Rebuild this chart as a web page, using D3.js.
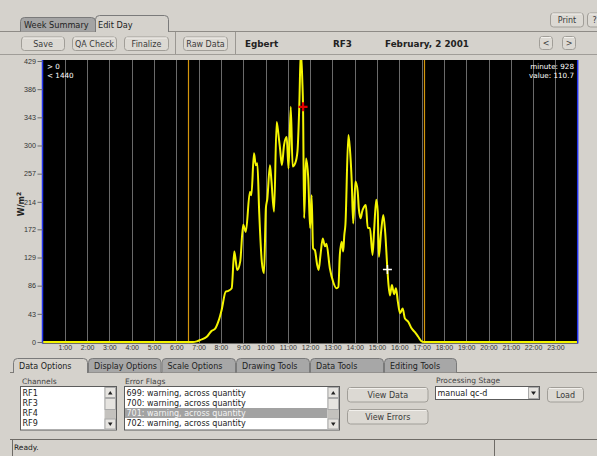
<!DOCTYPE html>
<html><head><meta charset="utf-8">
<script src="https://cdn.jsdelivr.net/npm/d3@7"></script>
<style>
html,body{margin:0;padding:0;background:#d5d2cc;}
svg{display:block;}
text{font-family:"DejaVu Sans",sans-serif;}
</style></head><body>
<script>
// ---- data ----
const minutes = [0,390,405,415,424,442,455,464,473,482,493,500,509,516,524,532,540,547,558,562,569,574,578,583,590,596,601,605,612,616,623,630,635,639,644,650,657,662,668,673,680,686,691,695,699,701,704,709,715,720,724,728,733,739,743,748,754,760,764,773,782,791,796,800,805,809,812,815,823,827,832,836,842,848,851,856,860,865,870,875,881,888,892,898,902,905,911,917,922,928,931,935,940,946,951,956,962,969,975,984,993,1002,1011,1020,1027,1440];
const irradiance = [0,0,0,1,3,8,17,20,31,49,77,78,82,138,110,123,179,168,229,224,288,270,273,199,123,105,204,219,270,246,199,336,316,296,270,301,313,265,359,268,273,291,362,445,400,359,189,280,250,174,224,143,140,118,110,133,158,146,150,113,92,82,84,133,153,138,163,179,316,296,245,181,245,230,204,189,199,206,209,174,174,133,168,217,199,130,168,194,168,110.7,87,71,87,73,82,62,44,51,36,31,21,15,8,1,0,0];
const yTicks = [0,43,86,129,172,214,257,300,343,386,429];
const hourLabels = ["1:00","2:00","3:00","4:00","5:00","6:00","7:00","8:00","9:00","10:00","11:00","12:00","13:00","14:00","15:00","16:00","17:00","18:00","19:00","20:00","21:00","22:00","23:00"];
const hourMinutes = [60,120,180,240,300,360,420,480,540,600,660,720,780,840,900,960,1020,1080,1140,1200,1260,1320,1380];
const sunMarks = [392, 1027];
const flaggedMinute = 701;
const cursorMinute = 928;
const topTabs = ["Week Summary","Edit Day"];
const toolButtons = ["Save","QA Check","Finalize","Raw Data"];
const bottomTabs = ["Data Options","Display Options","Scale Options","Drawing Tools","Data Tools","Editing Tools"];
const channels = ["RF1","RF3","RF4","RF9"];
const errorFlags = ["699: warning, across quantity","700: warning, across quantity","701: warning, across quantity","702: warning, across quantity"];

const W=597,H=456, BG="#d5d2cc";
const svg=d3.select("body").append("svg").attr("width",W).attr("height",H);
svg.append("rect").attr("width",W).attr("height",H).attr("fill",BG);

function button(x,y,w,h,label,fs){
  const g=svg.append("g");
  g.append("rect").attr("x",x+0.5).attr("y",y+0.5).attr("width",w).attr("height",h).attr("rx",3)
   .attr("fill","#dcd9d3").attr("stroke","#a19e98");
  g.append("line").attr("x1",x+2).attr("x2",x+w-1).attr("y1",y+1.5).attr("y2",y+1.5).attr("stroke","#f2f0ec");
  g.append("text").attr("x",x+w/2+0.5).attr("y",y+h/2+3.5).attr("text-anchor","middle")
   .attr("font-size",fs||8).attr("fill","#3a3a3a").text(label);
}
function tabPath(x1,x2,y1,y2){
  const r=4;
  return `M${x1},${y2}L${x1},${y1+r}Q${x1},${y1} ${x1+r},${y1}L${x2-r},${y1}Q${x2},${y1} ${x2},${y1+r}L${x2},${y2}`;
}

// ---- top tabs ----
svg.append("line").attr("x1",0).attr("x2",W).attr("y1",31.5).attr("y2",31.5).attr("stroke","#8e8b86");
svg.append("path").attr("d",tabPath(20.5,95.5,17.5,31.5)).attr("fill","#a4a4a4").attr("stroke","#7a7a7a");
svg.append("path").attr("d",tabPath(95.5,168.5,15.5,32)).attr("fill",BG).attr("stroke","#7a7a7a");
svg.append("text").attr("x",24).attr("y",28).attr("font-size",8.2).attr("fill","#222").text(topTabs[0]);
svg.append("text").attr("x",98).attr("y",28).attr("font-size",8.2).attr("fill","#222").text(topTabs[1]);

// ---- toolbar ----
button(21,36.5,43,13.5,toolButtons[0]);
button(72,36.5,44,13.5,toolButtons[1]);
button(124,36.5,44,13.5,toolButtons[2]);
button(183,36.5,44,13.5,toolButtons[3]);
[175.5,235.5].forEach(x=>svg.append("line").attr("x1",x).attr("x2",x).attr("y1",32).attr("y2",54).attr("stroke","#9a9792"));
svg.append("line").attr("x1",0).attr("x2",W).attr("y1",54.5).attr("y2",54.5).attr("stroke","#a09d98");
svg.append("text").attr("x",245).attr("y",47).attr("font-size",8.8).attr("font-weight","bold").attr("fill","#222").text("Egbert");
svg.append("text").attr("x",333).attr("y",47).attr("font-size",8.8).attr("font-weight","bold").attr("fill","#222").text("RF3");
svg.append("text").attr("x",385).attr("y",47).attr("font-size",8.8).attr("font-weight","bold").attr("fill","#222").text("February, 2 2001");
button(539,36,13,13,"<",8);
button(562,36,13,13,">",8);
button(550,12.5,33,14,"Print",8);
button(587,12.5,14,14,"?",8);

// ---- plot ----
const x=d3.scaleLinear().domain([0,1440]).range([42.5,577.7]);
const y=d3.scaleLinear().domain([0,429]).range([342,61]);
const px0=x(0), px1=x(1440), py0=60, py1=343.5;
svg.append("rect").attr("x",px0).attr("y",py0).attr("width",px1-px0).attr("height",py1-py0).attr("fill","#000");
svg.append("defs").append("clipPath").attr("id","clip").append("rect")
  .attr("x",px0).attr("y",py0).attr("width",px1-px0).attr("height",py1-py0);
const plot=svg.append("g").attr("clip-path","url(#clip)");
plot.selectAll("line.grid").data(hourMinutes).join("line").attr("class","grid")
  .attr("x1",d=>Math.round(x(d))+0.5).attr("x2",d=>Math.round(x(d))+0.5).attr("y1",py0).attr("y2",py1)
  .attr("stroke","#6a6a6a").attr("stroke-width",1);
plot.selectAll("line.sun").data(sunMarks).join("line").attr("class","sun")
  .attr("x1",d=>Math.round(x(d))+0.5).attr("x2",d=>Math.round(x(d))+0.5).attr("y1",py0).attr("y2",py1)
  .attr("stroke","#d4960c").attr("stroke-width",1.2);
const pts=minutes.map((m,i)=>[m,irradiance[i]]);
plot.append("path").datum(pts).attr("fill","none").attr("stroke","#f4f400").attr("stroke-width",2)
  .attr("stroke-linejoin","round").attr("d",d3.line().curve(d3.curveMonotoneX).x(d=>x(d[0])).y(d=>y(d[1])));
// markers
function cross(m,color,sz,sw){
  const i=minutes.indexOf(m), cx=x(m), cy=y(irradiance[i]);
  plot.append("line").attr("x1",cx-sz).attr("x2",cx+sz).attr("y1",cy).attr("y2",cy).attr("stroke",color).attr("stroke-width",sw);
  plot.append("line").attr("x1",cx).attr("x2",cx).attr("y1",cy-sz).attr("y2",cy+sz).attr("stroke",color).attr("stroke-width",sw);
}
cross(flaggedMinute,"#e00000",4.5,2.2);
cross(cursorMinute,"#ffffff",4.5,1.5);
// borders
[px0,px1].forEach(xx=>svg.append("line").attr("x1",xx).attr("x2",xx).attr("y1",py0).attr("y2",py1).attr("stroke","#2233ee").attr("stroke-width",1.5));
// corner info
const info=svg.append("g").attr("fill","#fff").attr("font-size",7.2).style("font-family","Liberation Sans, Arial, sans-serif");
info.append("text").attr("x",47).attr("y",69).text("> 0");
info.append("text").attr("x",47).attr("y",78).text("< 1440");
const ci=minutes.indexOf(cursorMinute);
info.append("text").attr("x",574).attr("y",69).attr("text-anchor","end").text("minute: "+cursorMinute);
info.append("text").attr("x",574).attr("y",78).attr("text-anchor","end").text("value: "+irradiance[ci]);

// y axis
const yAxis=svg.append("g").attr("transform",`translate(${px0},0)`)
  .call(d3.axisLeft(y).tickValues(yTicks).tickSize(5).tickPadding(1.5).tickFormat(d=>d));
yAxis.select(".domain").remove();
yAxis.selectAll(".tick line").attr("stroke","#6e6e6e");
yAxis.selectAll("text").attr("font-size",7.2).attr("fill","#333").style("font-family","Liberation Sans, Arial, sans-serif");
// x axis labels
const xAxis=svg.append("g").attr("transform",`translate(0,${py1})`)
  .call(d3.axisBottom(x).tickValues(hourMinutes).tickSize(0).tickPadding(2).tickFormat((d,i)=>hourLabels[i]));
xAxis.select(".domain").remove();
xAxis.selectAll("text").attr("font-size",7).attr("fill","#333").style("font-family","Liberation Sans, Arial, sans-serif");
// y label
const yl=svg.append("text").attr("transform","translate(24,204) rotate(-90)").attr("text-anchor","middle")
  .attr("font-size",8).attr("font-weight","bold").attr("fill","#222");
yl.append("tspan").text("W/m");
yl.append("tspan").attr("font-size",6).attr("dy",-3).text("2");

// ---- bottom tabs ----
const tabX=[13,88,161.5,236,310,384,457];
svg.append("line").attr("x1",10).attr("x2",W).attr("y1",372.5).attr("y2",372.5).attr("stroke","#7e7b76");
bottomTabs.forEach((t,i)=>{
  const active=i===0;
  svg.append("path").attr("d",tabPath(tabX[i]+0.5,tabX[i+1]-0.5,358.5,active?373:372.5))
    .attr("fill",active?BG:"#a7a7a7").attr("stroke","#7a7a7a");
  svg.append("text").attr("x",tabX[i]+6).attr("y",369).attr("font-size",8).attr("fill","#222").text(t);
});

// ---- list boxes ----
function listBox(x0,w,items,sel){
  const y0=386.5,h=43.5;
  svg.append("rect").attr("x",x0+0.5).attr("y",y0).attr("width",w).attr("height",h).attr("fill","#fff").attr("stroke","#5c5c5c");
  items.forEach((t,i)=>{
    const yy=y0+1+i*10;
    if(i===sel) svg.append("rect").attr("x",x0+1).attr("y",yy+0.5).attr("width",w-12.5).attr("height",10).attr("fill","#a2a2a2");
    svg.append("text").attr("x",x0+2.5).attr("y",yy+8.5).attr("font-size",8).attr("fill",i===sel?"#f4f4f4":"#222").text(t);
  });
  const sx=x0+w-11.5;
  svg.append("rect").attr("x",sx).attr("y",y0+0.5).attr("width",11.5).attr("height",h-1).attr("fill","#c4c2be");
  svg.append("rect").attr("x",sx+0.5).attr("y",y0+1).attr("width",10.5).attr("height",10).attr("fill","#e6e4e0").attr("stroke","#aaa");
  svg.append("rect").attr("x",sx+0.5).attr("y",y0+12).attr("width",10.5).attr("height",11).attr("fill","#e6e4e0").attr("stroke","#aaa");
  svg.append("rect").attr("x",sx+0.5).attr("y",y0+h-11).attr("width",10.5).attr("height",10).attr("fill","#e6e4e0").attr("stroke","#aaa");
  svg.append("path").attr("d",`M${sx+3.5},${y0+8}L${sx+8},${y0+8}L${sx+5.75},${y0+4.5}Z`).attr("fill","#222");
  svg.append("path").attr("d",`M${sx+3.5},${y0+h-7.5}L${sx+8},${y0+h-7.5}L${sx+5.75},${y0+h-4}Z`).attr("fill","#222");
}
svg.append("text").attr("x",22).attr("y",383.5).attr("font-size",7.5).attr("fill","#444").text("Channels");
listBox(20,96,channels,-1);
svg.append("text").attr("x",125).attr("y",383.5).attr("font-size",7.5).attr("fill","#444").text("Error Flags");
listBox(124,215,errorFlags,2);

button(347,387,80.5,14.5,"View Data");
button(347,409,80.5,14.5,"View Errors");
svg.append("text").attr("x",436).attr("y",383).attr("font-size",7.5).attr("fill","#444").text("Processing Stage");
svg.append("rect").attr("x",435.5).attr("y",386.5).attr("width",104).attr("height",13).attr("fill","#fff").attr("stroke","#5c5c5c");
svg.append("text").attr("x",437.5).attr("y",396).attr("font-size",8).attr("fill","#222").text("manual qc-d");
svg.append("rect").attr("x",528.5).attr("y",387.5).attr("width",10).attr("height",11).attr("fill","#e6e4e0").attr("stroke","#aaa");
svg.append("path").attr("d","M531,391.5L536,391.5L533.5,395Z").attr("fill","#222");
button(547,387,36,14.5,"Load");

// ---- status bar ----
svg.append("line").attr("x1",10).attr("x2",W).attr("y1",439.5).attr("y2",439.5).attr("stroke","#6e6b66");
svg.append("line").attr("x1",12.5).attr("x2",12.5).attr("y1",440).attr("y2",H).attr("stroke","#6e6b66");
svg.append("line").attr("x1",494.5).attr("x2",494.5).attr("y1",440).attr("y2",H).attr("stroke","#6e6b66");
svg.append("text").attr("x",14).attr("y",449.5).attr("font-size",7.5).attr("fill","#222").text("Ready.");
</script>
</body></html>
